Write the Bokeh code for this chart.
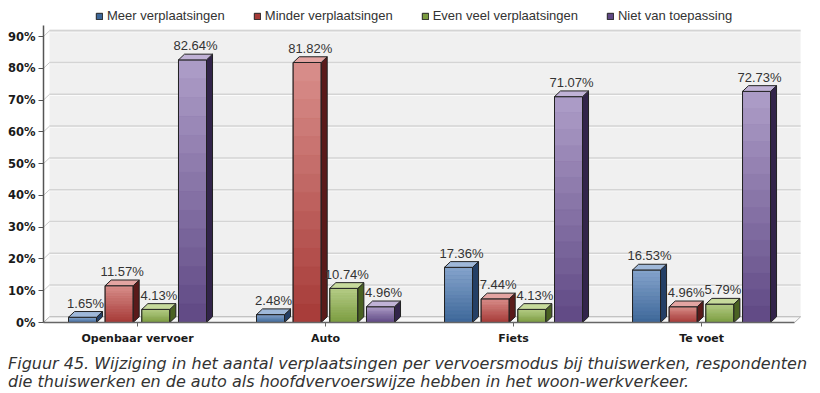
from bokeh.plotting import figure
from bokeh.layouts import column
from bokeh.models import (Range1d, FixedTicker, PrintfTickFormatter, Legend, LegendItem,
                          ColumnDataSource, Div)
from bokeh.core.properties import value
from bokeh.embed import file_html
from bokeh.resources import INLINE

# ---------------- data ----------------
categories = ["Openbaar vervoer", "Auto", "Fiets", "Te voet"]
series = ["Meer verplaatsingen", "Minder verplaatsingen",
          "Even veel verplaatsingen", "Niet van toepassing"]
meer = [1.65, 2.48, 17.36, 16.53]
minder = [11.57, 81.82, 7.44, 4.96]
even_veel = [4.13, 10.74, 4.13, 5.79]
niet = [82.64, 4.96, 71.07, 72.73]
y_ticks = [0, 10, 20, 30, 40, 50, 60, 70, 80, 90]
caption_lines = [
    "Figuur 45. Wijziging in het aantal verplaatsingen per vervoersmodus bij thuiswerken, respondenten",
    "die thuiswerken en de auto als hoofdvervoerswijze hebben in het woon-werkverkeer.",
]

# ---------------- styles ----------------
values_by_series = [meer, minder, even_veel, niet]
bottom_cols = ["#3d6799", "#a63a37", "#7b9c40", "#5f4884"]
top_cols = ["#86a4cc", "#d98f8c", "#b6cd88", "#ae9ec8"]
cap_cols = ["#9fb8d9", "#e3a4a2", "#c7da9c", "#c0b2d6"]
side_cols = ["#243f66", "#5a1a1a", "#4a6222", "#32244a"]
outline = "#222222"

n_cat = len(categories)
step = 0.195      # distance between bars in a group (category units)
bw = 0.149        # bar width
dx = 0.032        # 3D depth (x, category units)
dy = 1.8          # 3D depth (y, percent units)
x_end = 4.053
wall_right = 4.027
floor_right = 3.995
wall_top = 92.4
axis_top = 93.4
NSL = 14

p = figure(width=812, height=350, x_range=Range1d(0, x_end), y_range=Range1d(0, 100.7),
           output_backend="svg", toolbar_location=None,
           min_border_left=43, min_border_right=7, min_border_top=2, min_border_bottom=28)
p.title.visible = False
p.outline_line_color = None
p.background_fill_color = "white"
p.border_fill_color = "white"
p.xgrid.visible = False
p.ygrid.visible = False

# back wall
p.quad(left=[dx], right=[wall_right], bottom=[dy], top=[wall_top],
       fill_color="#f0f0f0", line_color=None)
gy = [t + dy for t in y_ticks[1:]]
p.segment(x0=[dx] * len(gy), y0=[g - 0.35 for g in gy], x1=[wall_right] * len(gy),
          y1=[g - 0.35 for g in gy], line_color="#fbfbfb", line_width=1)
p.segment(x0=[dx] * len(gy), y0=gy, x1=[wall_right] * len(gy), y1=gy,
          line_color="#d4d4d4", line_width=1.5)
p.segment(x0=[0] * len(gy), y0=y_ticks[1:], x1=[dx] * len(gy), y1=gy,
          line_color="#c8c8c8", line_width=1)
# floor
p.patch(x=[0, floor_right, wall_right, dx], y=[0, 0, dy, dy],
        fill_color="#f7f7f7", line_color="#b0b0b0", line_width=1)


def mix(c1, c2, f):
    a = [int(c1[i:i + 2], 16) for i in (1, 3, 5)]
    b = [int(c2[i:i + 2], 16) for i in (1, 3, 5)]
    return "#%02x%02x%02x" % tuple(round(a[k] + (b[k] - a[k]) * f) for k in range(3))


legend_items = []
lab_x, lab_y, lab_t = [], [], []
for j, vals in enumerate(values_by_series):
    xc = [i + 0.5 + (j - 1.5) * step for i in range(n_cat)]
    xl = [x - bw / 2 for x in xc]
    xr = [x + bw / 2 for x in xc]
    base = p.vbar(x=xc, top=vals, width=bw, bottom=0, fill_color=bottom_cols[j],
                  line_color=outline, line_width=1)
    legend_items.append(LegendItem(label=series[j], renderers=[base]))
    L, R, B, T, C = [], [], [], [], []
    for i in range(n_cat):
        v = vals[i]
        for k in range(NSL):
            L.append(xl[i]); R.append(xr[i])
            B.append(v * k / NSL); T.append(v * (k + 1) / NSL)
            C.append(mix(bottom_cols[j], top_cols[j], (k + 0.5) / NSL))
    p.quad(source=ColumnDataSource(dict(left=L, right=R, bottom=B, top=T, color=C)),
           left="left", right="right", bottom="bottom", top="top",
           fill_color="color", line_color="color", line_width=0.5)
    p.vbar(x=xc, top=vals, width=bw, bottom=0, fill_alpha=0,
           line_color=outline, line_width=1)
    sx = [[xr[i], xr[i] + dx, xr[i] + dx, xr[i]] for i in range(n_cat)]
    sy = [[0, dy, vals[i] + dy, vals[i]] for i in range(n_cat)]
    p.patches(xs=sx, ys=sy, fill_color=side_cols[j], line_color=outline, line_width=1)
    tx = [[xl[i], xl[i] + dx, xr[i] + dx, xr[i]] for i in range(n_cat)]
    ty = [[vals[i], vals[i] + dy, vals[i] + dy, vals[i]] for i in range(n_cat)]
    p.patches(xs=tx, ys=ty, fill_color=cap_cols[j], line_color=outline, line_width=1)
    for i in range(n_cat):
        lab_x.append(xc[i] + dx / 2)
        lab_y.append(vals[i] + dy)
        lab_t.append("%.2f%%" % vals[i])

p.text(x=lab_x, y=lab_y, text=lab_t, text_font=value("Liberation Sans"),
       text_font_size="13px", text_color="#333333", text_align="center",
       text_baseline="bottom", y_offset=-1)

# axes
ya = p.yaxis[0]
ya.ticker = FixedTicker(ticks=y_ticks)
ya.formatter = PrintfTickFormatter(format="%d%%")
ya.bounds = (0, axis_top)
ya.axis_line_color = "#555555"
ya.axis_line_width = 1.5
ya.major_tick_line_color = "#555555"
ya.major_tick_out = 5
ya.major_tick_in = 0
ya.minor_tick_line_color = None
ya.major_label_text_font = "DejaVu Sans"
ya.major_label_text_font_style = "bold"
ya.major_label_text_font_size = "11.5px"
ya.major_label_text_color = "#1a1a1a"
ya.major_label_standoff = 3

xa = p.xaxis[0]
xa.ticker = FixedTicker(ticks=[i + 0.5 for i in range(n_cat)])
xa.major_label_overrides = {i + 0.5: c for i, c in enumerate(categories)}
xa.bounds = (0, floor_right)
xa.axis_line_color = "#666666"
xa.axis_line_width = 1.5
xa.major_tick_line_color = "#666666"
xa.major_tick_out = 4
xa.major_tick_in = 0
xa.minor_tick_line_color = None
xa.major_label_text_font = "DejaVu Sans"
xa.major_label_text_font_style = "bold"
xa.major_label_text_font_size = "11px"
xa.major_label_text_color = "#1a1a1a"
xa.major_label_standoff = 5

# legend (inside the frame, above the wall)
legend = Legend(items=legend_items, orientation="horizontal", location=(52, 299),
                glyph_width=8, glyph_height=8, label_height=14, label_standoff=4,
                spacing=28, padding=0, margin=0,
                label_text_font="Liberation Sans", label_text_font_size="13px",
                label_text_color="#333333", background_fill_alpha=0,
                border_line_color=None)
p.add_layout(legend)

caption = Div(text="<br>".join(caption_lines), width=812, height=40,
              styles={"font-family": "DejaVu Sans", "font-style": "italic",
                      "font-size": "16px", "line-height": "18px", "color": "#333333",
                      "white-space": "nowrap", "padding-left": "3px"})

layout = column(p, caption, spacing=0)
open("out.html", "w").write(file_html(layout, INLINE))
